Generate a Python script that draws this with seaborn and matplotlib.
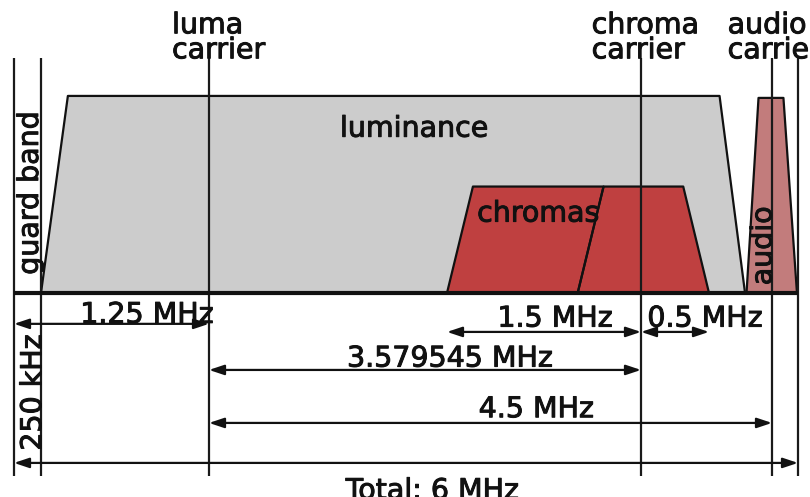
import numpy as np
import matplotlib
matplotlib.use("Agg")
import matplotlib.pyplot as plt
import matplotlib.patheffects as pe
import seaborn as sns

# NTSC channel, frequencies in MHz from the bottom edge of the channel
channel_width = 6.0
guard_band = 0.25
luma_carrier = 1.25
chroma_offset = 3.579545
audio_offset = 4.5
chroma_carrier = luma_carrier + chroma_offset
audio_carrier = luma_carrier + audio_offset

# spectrum outlines: frequency (MHz) and relative amplitude
lum_f = [0.25, 0.41, 5.40, 5.57]
lum_a = [0.0, 1.0, 1.0, 0.0]
chroma_lo_f = [chroma_carrier - 1.5, 3.53, 4.54, 4.34]
chroma_hi_f = [4.34, 4.54, 5.14, chroma_carrier + 0.5]
chroma_a = [0.0, 0.54, 0.54, 0.0]
audio_f = [5.58, 5.66, 5.86, 5.99]
audio_a = [0.0, 0.99, 0.99, 0.0]

carrier_lines = [0.0, guard_band, luma_carrier, chroma_carrier, audio_carrier, channel_width]

dim_labels = ["1.25 MHz", "1.5 MHz", "0.5 MHz", "3.579545 MHz", "4.5 MHz", "Total: 6 MHz"]
dim_start = [0.0, chroma_carrier - 1.5, chroma_carrier, luma_carrier, luma_carrier, 0.0]
dim_end = [luma_carrier, chroma_carrier, chroma_carrier + 0.5, chroma_carrier, audio_carrier, channel_width]

# the drawing is schematic, not to scale: piecewise-linear frequency axis
scale_mhz = [-0.13, 0.0, guard_band, luma_carrier, chroma_carrier - 1.5, chroma_carrier,
             chroma_carrier + 0.5, audio_carrier, channel_width, 6.115]
scale_pos = [0, 14, 41, 209, 447, 641, 709, 772, 798, 810]


def forward(x):
    return np.interp(x, scale_mhz, scale_pos)


def inverse(p):
    return np.interp(p, scale_pos, scale_mhz)


sns.set_theme(style="white")
plt.rcParams['font.family'] = ['DejaVu Sans']

ink = '#111111'
lum_col = '#cccccc'
chroma_col = '#bf4040'
audio_col = '#c27c7c'
# slightly heavier text, like the reference rendering
txt = dict(fontsize=20.5, color=ink, zorder=7,
           path_effects=[pe.withStroke(linewidth=0.7, foreground=ink)])

fig = plt.figure(figsize=(8.1, 4.97), dpi=100)
ax = fig.add_axes([0, 0, 1, 1])
ax.set_xscale('function', functions=(forward, inverse))
ax.set_xlim(-0.13, 6.115)
ax.set_ylim(-1.036, 1.487)
ax.axis('off')

ax.fill(lum_f, lum_a, color=lum_col, zorder=1, lw=0)
ax.fill(chroma_lo_f, chroma_a, color=chroma_col, zorder=2, lw=0)
ax.fill(chroma_hi_f, chroma_a, color=chroma_col, zorder=2, lw=0)
ax.fill(audio_f, audio_a, color=audio_col, zorder=2, lw=0)

for xs, ys, z in [(lum_f, lum_a, 1.5), (chroma_lo_f, chroma_a, 2.5),
                  (chroma_hi_f, chroma_a, 2.5), (audio_f, audio_a, 2.5)]:
    sns.lineplot(x=xs, y=ys, sort=False, estimator=None, color=ink,
                 lw=1.6, ax=ax, zorder=z)

ax.vlines(carrier_lines, -0.93, 1.195, color='#1a1a1a', lw=1.6, zorder=4)
ax.plot([0.0, channel_width], [0, 0], color=ink, lw=3, zorder=5,
        solid_capstyle='butt')

# dimension arrows
dim_y = [-0.157, -0.198, -0.198, -0.391, -0.660, -0.863]
dim_tx = [0.881, 4.165, 5.30, 3.353, 4.02, 3.20]
dim_ty = [-0.152, -0.171, -0.171, -0.374, -0.631, -1.046]
for lab, x0, x1, y, tx, ty in zip(dim_labels, dim_start, dim_end, dim_y, dim_tx, dim_ty):
    ax.annotate('', xy=(x1, y), xytext=(x0, y),
                arrowprops=dict(arrowstyle='<|-|>,head_length=0.9,head_width=0.3',
                                mutation_scale=10, lw=1.6, color=ink,
                                shrinkA=0, shrinkB=0), zorder=6)
    ax.text(tx, ty, lab, ha='center', va='baseline', **txt)

# carrier names
for x, top, bottom in [(1.03, 'luma', 'carrier'), (4.448, 'chroma', 'carrier'),
                       (5.454, 'audio', 'carrier')]:
    ax.text(x, 1.318, top, ha='left', va='baseline', **txt)
    ax.text(x, 1.191, bottom, ha='left', va='baseline', **txt)

ax.text(3.042, 0.793, 'luminance', ha='center', va='baseline', **txt)
ax.text(4.037, 0.362, 'chromas', ha='center', va='baseline', **txt)
ax.text(5.692, 0.239, 'audio', ha='center', va='center', rotation=90, **txt)
ax.text(0.148, 0.508, 'guard band', ha='center', va='center', rotation=90, **txt)
ax.text(0.176, -0.505, '250 kHz', ha='center', va='center', rotation=90, **txt)

fig.savefig('out.png', dpi=100)
